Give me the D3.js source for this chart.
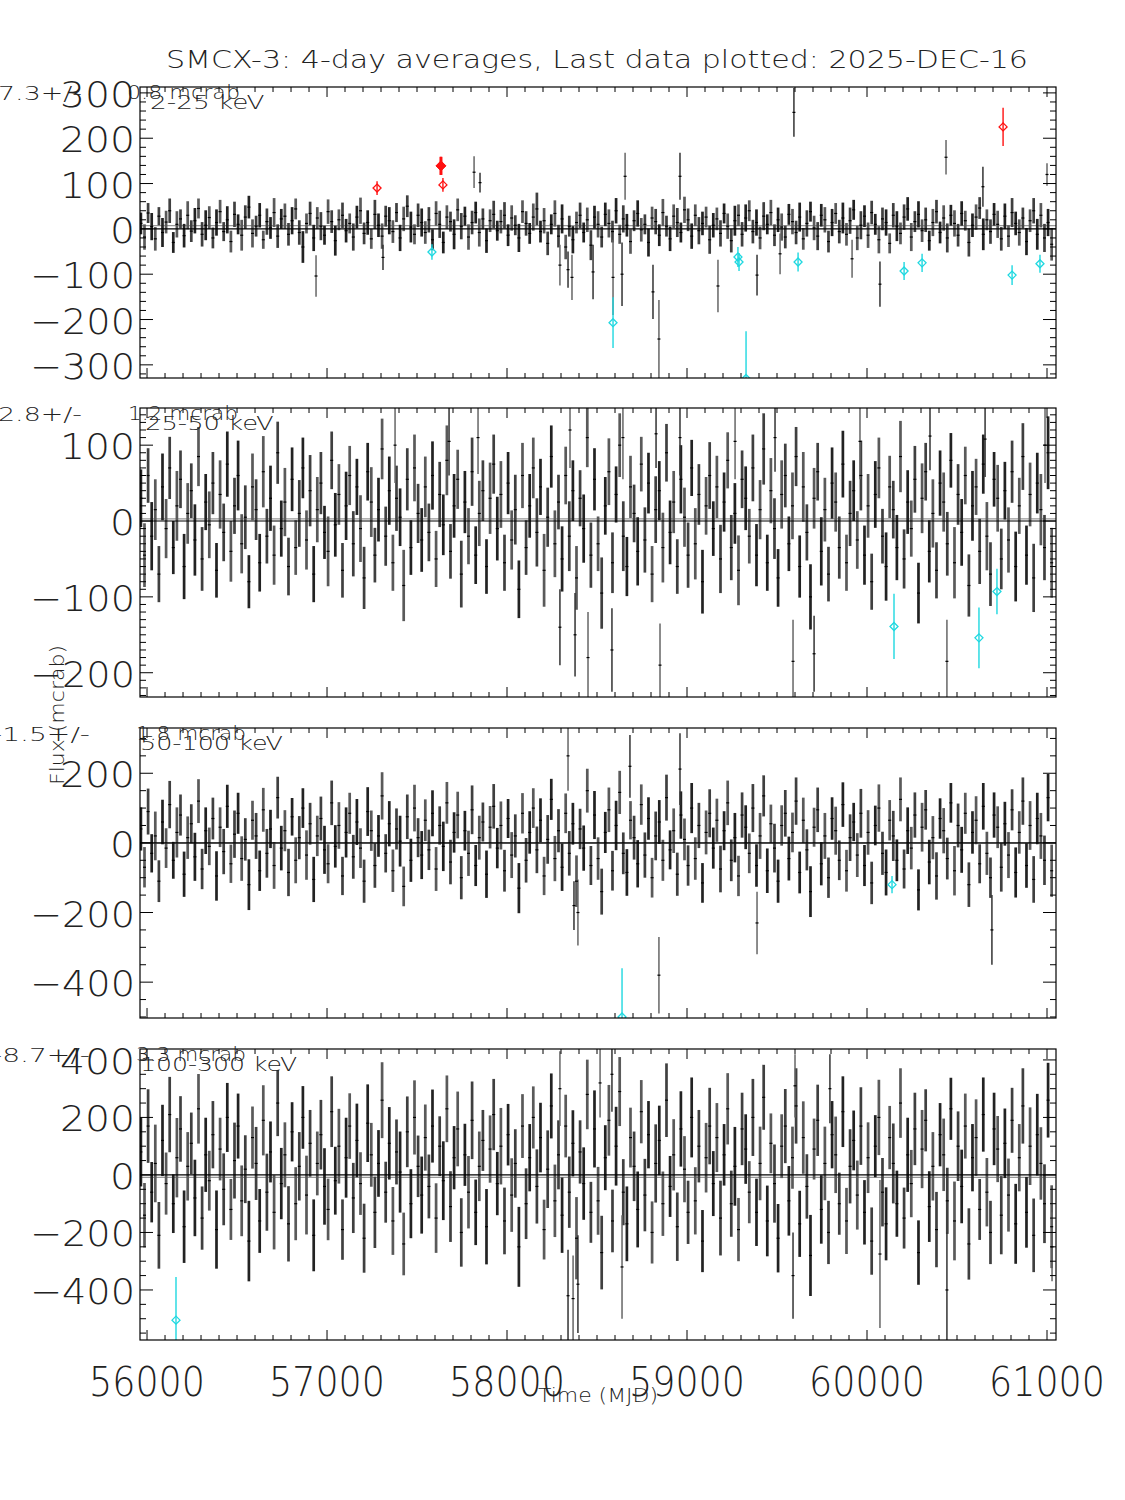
<!DOCTYPE html>
<html>
<head>
<meta charset="utf-8">
<script src="https://cdn.jsdelivr.net/npm/d3@7"></script>
<style>
  html, body { margin: 0; padding: 0; background: #fff; }
  svg text { font-family: 'DejaVu Sans', 'Liberation Sans', sans-serif; font-weight: 200; fill: #222; }
</style>
</head>
<body>
<svg id="chart" width="1125" height="1500"></svg>
<script>
// ---------------- DATA ----------------
const titleText = "SMCX-3:  4-day averages,  Last data plotted: 2025-DEC-16";
const bandLabels = ["2-25 keV", "25-50 keV", "50-100 keV", "100-300 keV"];
const meanLabels = ["7.3+/-", "2.8+/-", "-1.5+/-", "-8.7+/-"];
const meanErrLabels = ["0.8 mcrab", "1.2 mcrab", "1.8 mcrab", "3.3 mcrab"];
const meanValues = [7.3, 2.8, -1.5, -8.7];
const xTickValues = [56000, 57000, 58000, 59000, 60000, 61000];
const yTicks1 = [-300, -200, -100, 0, 100, 200, 300];
const yTicks2 = [-200, -100, 0, 100];
const yTicks3 = [-400, -200, 0, 200];
const yTicks4 = [-400, -200, 0, 200, 400];

// time grid of the (down-sampled) averaged light curve, MJD
const gridStart = 55966, gridStep = 20;

// panel 1 : 2-25 keV
const p1v = [12,-18,35,5,-22,28,-8,15,40,-30,10,22,-15,30,-5,18,45,-12,8,25,
-20,14,38,-6,20,-28,32,10,-14,26,48,-10,6,30,-24,16,2,36,-16,22,
28,-12,18,44,-8,-40,12,34,-20,24,6,-14,38,16,-26,20,30,-4,12,-18,
26,40,-10,14,-22,32,8,-16,28,18,-6,36,-20,22,50,4,-12,30,14,-8,
20,-24,34,10,-30,26,16,-12,42,6,28,-18,14,36,-8,22,-26,18,32,-4,
16,30,-14,24,8,-20,38,12,-10,26,44,-6,18,-32,10,34,-16,22,-40,6,
-24,14,30,-8,20,-36,26,10,-18,32,12,-6,40,-12,22,8,-28,18,34,-2,
10,-30,24,16,-14,36,6,-22,28,14,-8,42,20,-16,30,-4,12,26,-24,8,
22,-10,34,6,-26,18,30,-12,24,40,-6,14,-20,28,10,36,-14,20,4,-18,
32,16,-8,26,-22,12,38,2,-16,30,20,-28,14,34,-6,24,-12,18,42,-20,
8,28,-14,36,10,-24,22,14,-32,30,6,-10,26,44,-18,16,32,-4,20,-26,
14,38,-8,24,-20,30,12,-14,34,18,-30,8,26,46,-12,20,-6,32,10,-22,
28,-16,36,12,-8,24,-28,18,40,-12,30,-20,14,-34];
const p1e = [24,28,22,30,26,20,32,25,27,23,29,21,26,31,24,28,22,27,33,25,
23,29,26,21,30,24,28,22,34,26,25,31,23,27,20,29,24,32,26,22,
28,25,30,23,27,35,22,26,29,24,31,21,27,25,33,23,28,26,22,30,
25,29,24,27,22,32,26,28,23,30,25,21,29,27,24,34,22,26,31,25,
28,23,27,30,24,26,22,33,25,29,21,28,26,24,31,23,27,25,30,22,
26,29,24,28,22,31,25,27,23,30,36,24,28,26,22,29,25,32,27,23,
30,24,28,22,27,33,25,29,23,26,31,24,28,21,30,25,27,23,29,26,
22,31,25,28,24,30,23,27,26,32,22,29,25,28,24,30,26,23,31,27,
25,29,22,28,26,33,24,27,30,23,26,29,25,31,22,28,24,27,30,25,
23,28,26,32,24,29,22,27,31,25,28,24,30,23,26,34,25,29,22,27,
31,24,28,26,23,30,25,29,22,27,33,24,28,26,31,23,29,25,27,22,
30,26,24,28,32,23,29,25,27,22,31,26,28,24,35,23,27,25,30,26,
28,24,32,26,29,23,30,25,28,34,27,31,30,36];

// panel 2 : 25-50 keV
const p2v = [30,-45,60,-20,15,-70,45,-10,70,-35,20,55,-60,10,40,-25,85,-50,25,-5,
50,-65,35,-15,75,-40,20,60,-30,5,-80,45,15,-55,65,-20,30,-45,90,-10,
25,-60,55,-35,10,70,-25,40,-70,15,50,-15,-40,80,-5,35,-65,20,60,-30,
45,-10,-75,65,25,-45,15,95,-20,40,-55,30,5,-85,55,-35,70,10,-25,45,
-15,60,-50,35,-5,80,-40,20,55,-70,25,-20,65,-45,10,40,-60,30,75,-10,
35,-55,50,-25,15,-90,60,-35,20,70,-15,45,-65,5,85,-30,25,-50,60,-20,
40,-75,30,-10,110,-45,55,-30,-95,20,65,-55,35,100,-20,-60,45,10,-40,75,
-25,50,-70,15,40,-35,90,-15,25,-60,55,5,-45,70,-30,35,-80,20,60,-10,
45,-50,25,80,-35,10,-65,55,30,-20,70,-45,15,95,-55,40,-10,-75,35,60,
-30,20,85,-60,45,-15,-100,30,65,-40,15,-70,50,25,-35,75,-55,10,40,-25,
60,-45,20,-80,35,70,-20,-60,45,15,-35,85,-50,25,-10,55,-95,30,65,-40,
10,-65,50,25,-30,80,-55,35,-15,60,-85,20,45,-40,75,-20,-70,55,30,-50,
40,-25,65,-60,20,85,-45,35,-75,50,15,-35,90,-55];
const p2e = [38,42,36,45,40,37,44,39,41,35,46,38,43,40,36,47,39,42,37,44,
41,36,45,38,43,40,37,46,39,42,35,44,40,38,47,36,43,39,41,37,
45,38,42,36,44,40,39,47,37,43,41,35,46,38,42,40,36,45,39,43,
37,44,41,38,46,36,42,40,39,45,37,43,38,47,41,36,44,39,42,40,
38,45,37,43,40,46,36,42,39,44,41,37,45,38,43,40,36,47,39,42,
44,37,41,39,46,38,43,36,42,40,45,37,48,39,41,44,36,43,38,46,
40,42,37,45,39,43,41,36,47,38,44,40,37,42,46,39,41,38,45,36,
43,40,37,44,39,46,38,42,41,36,45,39,43,37,47,40,42,38,44,36,
41,45,39,37,43,40,46,38,42,36,44,41,39,47,37,43,40,38,45,42,
36,44,39,41,46,37,43,40,38,45,42,36,47,39,41,44,37,43,40,38,
46,39,42,37,44,40,36,45,41,38,43,47,39,42,37,44,40,46,38,41,
45,37,43,39,42,36,47,40,44,38,41,46,37,43,39,45,42,36,44,40,
38,43,41,46,37,44,39,42,45,40,47,43,48,46];

// panel 3 : 50-100 keV
const p3v = [40,-70,90,-30,20,-110,60,-15,110,-50,30,80,-90,15,55,-40,120,-75,35,-10,
70,-95,45,-25,105,-60,25,85,-45,10,-120,65,20,-80,95,-30,40,-65,130,-15,
35,-85,75,-50,15,100,-35,55,-105,20,70,-20,-60,115,-10,50,-95,30,85,-40,
60,-15,-110,90,35,-65,20,135,-30,55,-80,40,5,-125,75,-50,100,15,-35,65,
-20,85,-75,50,-10,115,-55,30,80,-100,35,-30,95,-65,15,60,-90,45,105,-15,
50,-80,70,-35,20,-130,85,-50,30,100,-20,65,-95,10,125,-45,35,-70,85,-30,
55,-110,40,-15,150,-65,80,-45,-140,30,95,-80,50,145,-30,-85,65,15,-60,110,
-35,70,-100,20,60,-50,130,-20,35,-90,80,10,-65,100,-45,50,-115,30,85,-15,
65,-75,35,115,-50,15,-95,80,45,-30,100,-65,20,135,-80,55,-15,-110,50,85,
-45,30,120,-85,65,-20,-140,45,95,-60,20,-100,70,35,-50,110,-80,15,60,-35,
85,-65,30,-115,50,100,-30,-85,65,20,-50,125,-75,35,-15,80,-135,45,95,-55,
15,-95,70,35,-45,115,-80,50,-20,85,-120,30,65,-60,105,-30,-100,80,45,-70,
55,-35,95,-85,30,120,-65,50,-105,70,20,-50,130,-80];
const p3e = [62,58,66,55,70,60,64,57,68,53,72,59,65,61,56,69,63,58,67,54,
60,71,57,65,62,55,68,59,64,61,73,56,66,58,63,70,55,67,60,64,
59,68,54,66,62,57,71,60,65,58,63,69,56,64,61,67,55,72,59,63,
66,57,62,70,58,64,60,68,55,65,61,59,73,57,64,62,67,56,69,60,
58,66,63,55,71,60,64,58,67,62,57,65,70,59,63,56,68,61,64,58,
69,60,56,66,62,72,58,64,61,57,67,63,55,70,59,65,62,68,57,64,
60,74,58,65,63,56,69,61,66,59,64,57,71,62,60,67,55,63,68,58,
65,61,57,70,63,59,66,56,64,62,68,60,58,72,61,65,57,63,69,59,
62,67,56,64,60,71,58,65,63,57,69,61,66,59,64,55,70,62,58,67,
63,57,68,60,65,59,73,56,64,62,66,58,61,69,57,64,60,67,55,63,
70,59,64,61,57,68,62,66,58,72,60,63,56,67,61,65,59,70,57,64,
62,68,58,65,60,57,71,63,66,59,64,61,69,56,67,62,58,65,60,70,
63,66,59,72,61,68,64,70,67,74,66,71,68,75];

// panel 4 : 100-300 keV
const p4v = [80,-140,170,-60,40,-210,120,-30,210,-100,60,160,-180,30,110,-80,230,-150,70,-20,
140,-190,90,-50,200,-120,50,170,-90,20,-230,130,40,-160,190,-60,80,-130,250,-30,
70,-170,150,-100,30,200,-70,110,-210,40,140,-40,-120,220,-20,100,-190,60,170,-80,
120,-30,-220,180,70,-130,40,260,-60,110,-160,80,10,-240,150,-100,200,30,-70,130,
-40,170,-150,100,-20,230,-110,60,160,-200,70,-60,190,-130,30,120,-180,90,210,-30,
100,-160,140,-70,40,-250,170,-100,60,200,-40,130,-190,20,240,-90,70,-140,170,-60,
110,-220,80,-30,280,-130,160,-90,-270,60,190,-160,100,290,-60,-170,130,30,-120,220,
-70,140,-200,40,120,-100,260,-40,70,-180,160,20,-130,200,-90,100,-230,60,170,-30,
130,-150,70,230,-100,30,-190,160,90,-60,200,-130,40,270,-160,110,-30,-220,100,170,
-90,60,240,-170,130,-40,-280,90,190,-120,40,-200,140,70,-100,220,-160,30,120,-70,
170,-130,60,-230,100,200,-60,-170,130,40,-100,250,-150,70,-30,160,-270,90,190,-110,
30,-190,140,70,-90,230,-160,100,-40,170,-240,60,130,-120,210,-60,-200,160,90,-140,
110,-70,190,-170,60,240,-130,100,-210,140,40,-100,260,-180];
const p4e = [120,112,128,105,135,116,124,108,131,102,138,114,126,119,107,133,121,110,129,104,
117,136,109,125,120,106,132,113,123,118,140,108,127,111,122,134,106,129,115,124,
113,131,103,127,119,109,137,116,125,111,121,133,107,123,118,130,105,139,114,122,
128,109,120,135,111,124,116,132,106,126,118,113,141,109,123,120,129,107,134,115,
111,127,121,104,137,116,123,110,130,119,108,126,135,114,121,106,131,117,124,110,
133,116,107,128,119,139,111,123,117,108,129,121,104,135,113,126,120,131,109,124,
115,143,110,126,121,106,134,118,128,113,123,109,137,120,115,130,104,121,132,110,
126,117,108,136,121,112,128,106,124,119,131,115,110,139,117,126,108,121,133,113,
120,130,107,124,115,137,110,126,121,108,134,117,128,113,123,104,136,119,111,129,
121,108,131,115,126,112,141,106,124,119,128,110,117,133,108,123,115,129,104,120,
135,112,123,117,108,131,119,127,110,139,115,121,106,129,117,126,112,136,108,123,
119,131,110,126,115,108,137,121,128,113,124,117,133,106,129,119,110,126,115,136,
121,127,113,139,117,131,123,135,128,142,126,137,130,144];

// isolated large excursions (black), per panel: MJD, value, error
const p1SpikeMjd = [56939,57311,57817,57850,58294,58339,58361,58478,58589,58639,58656,58811,58844,58961,59172,59389,59517,59594,59917,60072,60439,60644,61000];
const p1SpikeVal = [-104,-63,125,102,-80,-90,-107,-95,-107,-100,116,-139,-243,116,-126,-102,-55,257,-66,-122,158,93,120];
const p1SpikeErr = [46,28,35,22,45,40,50,60,83,70,52,60,86,52,58,45,45,54,42,50,38,44,25];
const p2SpikeMjd = [57378,57678,57839,58294,58350,58378,58450,58583,58644,58828,58850,58961,59267,59489,59589,59706,59961,60350,60444,60656,60989];
const p2SpikeVal = [100,105,110,-140,120,-150,-180,-170,110,115,-190,110,105,110,-185,-175,105,112,-185,108,100];
const p2SpikeErr = [50,45,48,50,50,55,60,55,55,45,55,50,50,45,55,50,50,45,55,50,50];
const p3SpikeMjd = [58339,58372,58394,58683,58844,58961,59389,60694];
const p3SpikeVal = [250,-180,-200,220,-380,212,-230,-250];
const p3SpikeErr = [100,70,95,90,110,103,90,100];
const p4SpikeMjd = [58294,58339,58367,58394,58517,58583,58639,59589,59600,59794,60072,60444,61028];
const p4SpikeVal = [300,-420,-430,-380,320,350,-320,-350,310,300,-275,-400,-250];
const p4SpikeErr = [130,160,150,170,120,130,180,150,110,120,257,200,120];

// highlighted points: red (high) and cyan (low)
const p1RedMjd = [57278, 57633, 57644, 60756];
const p1RedVal = [90, 139, 97, 225];
const p1RedErr = [15, 20, 15, 42];
const p1CyanMjd = [57583, 58589, 59283, 59289, 59328, 59617, 60206, 60306, 60806, 60961];
const p1CyanVal = [-51, -207, -62, -73, -330, -73, -93, -75, -102, -77];
const p1CyanErr = [17, 56, 22, 20, 104, 21, 20, 20, 22, 20];
const p2CyanMjd = [60150, 60622, 60722];
const p2CyanVal = [-139, -154, -93];
const p2CyanErr = [43, 40, 30];
const p3CyanMjd = [58639, 60139];
const p3CyanVal = [-500, -120];
const p3CyanErr = [140, 25];
const p4CyanMjd = [56161];
const p4CyanVal = [-505];
const p4CyanErr = [150];

// ---------------- DRAWING ----------------
const svg = d3.select("#chart");
const x = d3.scaleLinear().domain([55961, 61050]).range([140, 1056]);

const panels = [
  {top: 87,  bottom: 378,  dom: [-329, 313], ticks: yTicks1, minor: 20, v: p1v, e: p1e,
   sm: p1SpikeMjd, sv: p1SpikeVal, se: p1SpikeErr,
   rm: p1RedMjd, rv: p1RedVal, re: p1RedErr, cm: p1CyanMjd, cv: p1CyanVal, ce: p1CyanErr},
  {top: 408, bottom: 697,  dom: [-232, 149], ticks: yTicks2, minor: 10, v: p2v, e: p2e,
   sm: p2SpikeMjd, sv: p2SpikeVal, se: p2SpikeErr,
   rm: [], rv: [], re: [], cm: p2CyanMjd, cv: p2CyanVal, ce: p2CyanErr},
  {top: 728, bottom: 1018, dom: [-503, 330], ticks: yTicks3, minor: 50, v: p3v, e: p3e,
   sm: p3SpikeMjd, sv: p3SpikeVal, se: p3SpikeErr,
   rm: [], rv: [], re: [], cm: p3CyanMjd, cv: p3CyanVal, ce: p3CyanErr},
  {top: 1049, bottom: 1340, dom: [-574, 438], ticks: yTicks4, minor: 50, v: p4v, e: p4e,
   sm: p4SpikeMjd, sv: p4SpikeVal, se: p4SpikeErr,
   rm: [], rv: [], re: [], cm: p4CyanMjd, cv: p4CyanVal, ce: p4CyanErr}
];

const defs = svg.append("defs");
const [x0, x1] = x.range();

function diamond(g, cx, cy, color) {
  g.append("path")
    .attr("d", `M${cx},${cy-4} L${cx+4},${cy} L${cx},${cy+4} L${cx-4},${cy} Z`)
    .attr("fill", "none").attr("stroke", color).attr("stroke-width", 1.3);
}

panels.forEach((p, k) => {
  const y = d3.scaleLinear().domain(p.dom).range([p.bottom, p.top]);
  defs.append("clipPath").attr("id", "clip" + k)
    .append("rect").attr("x", x0).attr("y", p.top).attr("width", x1 - x0).attr("height", p.bottom - p.top);
  const g = svg.append("g").attr("clip-path", `url(#clip${k})`);

  // mean level
  g.append("line").attr("x1", x0).attr("x2", x1)
    .attr("y1", y(meanValues[k])).attr("y2", y(meanValues[k]))
    .attr("stroke", "#999").attr("stroke-width", 1.2);

  const pts = p.v.map((v, i) => ({t: gridStart + i * gridStep, v, e: p.e[i]}));
  const spikes = p.sm.map((t, i) => ({t, v: p.sv[i], e: p.se[i]}));

  g.selectAll("line.bar").data(pts).join("line").attr("class", "bar")
    .attr("x1", d => x(d.t)).attr("x2", d => x(d.t))
    .attr("y1", d => y(d.v - d.e)).attr("y2", d => y(d.v + d.e))
    .attr("stroke", (d, i) => i % 3 === 0 ? "#222" : (i % 3 === 1 ? "#5a5a5a" : "#404040"))
    .attr("stroke-width", 2.7);
  g.selectAll("line.spike").data(spikes).join("line").attr("class", "spike")
    .attr("x1", d => x(d.t)).attr("x2", d => x(d.t))
    .attr("y1", d => y(d.v - d.e)).attr("y2", d => y(d.v + d.e))
    .attr("stroke", (d, i) => i % 2 ? "#333" : "#666").attr("stroke-width", 1.5);
  g.selectAll("line.pt").data(pts.concat(spikes)).join("line").attr("class", "pt")
    .attr("x1", d => x(d.t) - 1.5).attr("x2", d => x(d.t) + 1.5)
    .attr("y1", d => y(d.v)).attr("y2", d => y(d.v))
    .attr("stroke", "#000").attr("stroke-width", 1.2);

  // zero line
  g.append("line").attr("x1", x0).attr("x2", x1).attr("y1", y(0)).attr("y2", y(0))
    .attr("stroke", "#000").attr("stroke-width", 1.2);

  // highlighted points
  const hl = [];
  p.rm.forEach((t, i) => hl.push({t, v: p.rv[i], e: p.re[i], c: "#ff1010"}));
  p.cm.forEach((t, i) => hl.push({t, v: p.cv[i], e: p.ce[i], c: "#1ed8e0"}));
  hl.forEach(d => {
    g.append("line").attr("x1", x(d.t)).attr("x2", x(d.t))
      .attr("y1", y(d.v - d.e)).attr("y2", y(d.v + d.e))
      .attr("stroke", d.c).attr("stroke-width", 1.4);
    diamond(g, x(d.t), y(d.v), d.c);
  });
  if (k === 0) {
    const t = p.rm[1], v = p.rv[1], e = p.re[1];
    g.append("line").attr("x1", x(t)).attr("x2", x(t)).attr("y1", y(v - e)).attr("y2", y(v + e))
      .attr("stroke", "#ff1010").attr("stroke-width", 3);
    g.append("path").attr("d", `M${x(t)},${y(v)-5} L${x(t)+5},${y(v)} L${x(t)},${y(v)+5} L${x(t)-5},${y(v)} Z`)
      .attr("fill", "#ff1010").attr("stroke", "#ff1010");
  }

  // frame
  const ax = svg.append("g");
  ax.append("rect").attr("x", x0).attr("y", p.top).attr("width", x1 - x0).attr("height", p.bottom - p.top)
    .attr("fill", "none").attr("stroke", "#000").attr("stroke-width", 1.2);

  const minorX = d3.range(56000, 61051, 100).filter(t => t >= 55961 && t <= 61050);
  minorX.forEach(t => {
    const len = (t % 1000 === 0) ? 10 : 5;
    ax.append("line").attr("x1", x(t)).attr("x2", x(t)).attr("y1", p.bottom).attr("y2", p.bottom - len)
      .attr("stroke", "#000").attr("stroke-width", 1);
    ax.append("line").attr("x1", x(t)).attr("x2", x(t)).attr("y1", p.top).attr("y2", p.top + len)
      .attr("stroke", "#000").attr("stroke-width", 1);
  });
  const yMinor = d3.range(Math.ceil(p.dom[0] / p.minor) * p.minor, p.dom[1] + 0.001, p.minor);
  yMinor.forEach(v => {
    const major = p.ticks.includes(v);
    const len = major ? 13 : 6;
    ax.append("line").attr("x1", x0).attr("x2", x0 + len).attr("y1", y(v)).attr("y2", y(v))
      .attr("stroke", "#000").attr("stroke-width", 1);
    ax.append("line").attr("x1", x1).attr("x2", x1 - len).attr("y1", y(v)).attr("y2", y(v))
      .attr("stroke", "#000").attr("stroke-width", 1);
  });
  p.ticks.forEach(v => {
    const s = v < 0 ? "\u2212" + Math.abs(v) : String(v);
    const digits = String(Math.abs(v)).length;
    ax.append("text").attr("x", 135).attr("y", y(v) + 14)
      .attr("text-anchor", "end").attr("font-size", 36)
      .attr("textLength", digits * 25 + (v < 0 ? 30 : 0)).attr("lengthAdjust", "spacingAndGlyphs")
      .text(s);
  });

  const bl = bandLabels[k];
  svg.append("text").attr("x", k === 0 ? 150 : (k === 1 ? 145 : 140)).attr("y", p.top + 22)
    .attr("font-size", 19).attr("textLength", bl.length * 14.3).attr("lengthAdjust", "spacingAndGlyphs")
    .text(bl);
  const ml = meanLabels[k];
  svg.append("text").attr("x", ml.startsWith("-") ? -8 : -2).attr("y", p.top + 13)
    .attr("font-size", 19).attr("textLength", ml.length * 14).attr("lengthAdjust", "spacingAndGlyphs")
    .text(ml);
  const me = meanErrLabels[k];
  svg.append("text").attr("x", k === 0 ? 127 : (k === 1 ? 128 : 136)).attr("y", p.top + 12)
    .attr("font-size", 19).attr("textLength", k === 0 ? 113 : 110).attr("lengthAdjust", "spacingAndGlyphs")
    .text(me);
});

xTickValues.forEach(t => {
  svg.append("text").attr("x", x(t)).attr("y", 1396).attr("text-anchor", "middle")
    .attr("font-size", 40).attr("textLength", 116).attr("lengthAdjust", "spacingAndGlyphs")
    .text(String(t));
});

svg.append("text").attr("x", 166).attr("y", 68).attr("font-size", 24)
  .attr("textLength", 862).attr("lengthAdjust", "spacingAndGlyphs").text(titleText);
svg.append("text").attr("x", 598).attr("y", 1402).attr("text-anchor", "middle").attr("font-size", 20)
  .attr("textLength", 120).attr("lengthAdjust", "spacingAndGlyphs").text("Time (MJD)");
svg.append("text").attr("transform", "translate(64,715) rotate(-90)").attr("text-anchor", "middle")
  .attr("font-size", 20).attr("textLength", 140).attr("lengthAdjust", "spacingAndGlyphs").text("Flux (mcrab)");
</script>
</body>
</html>
